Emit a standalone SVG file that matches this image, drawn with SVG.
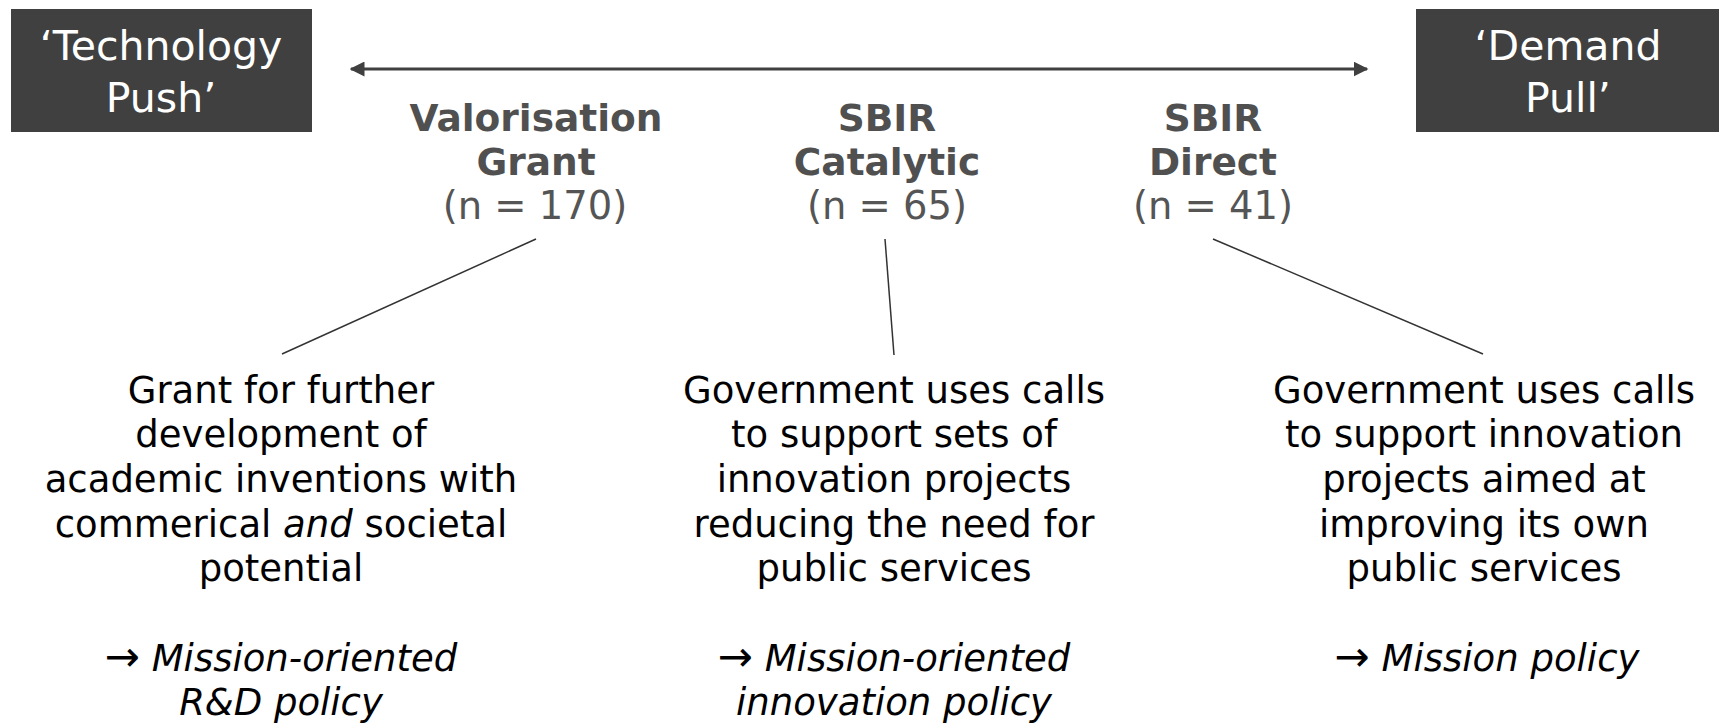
<svg xmlns="http://www.w3.org/2000/svg" width="1719" height="723" viewBox="0 0 1719 723">
  <style>
    .box { fill: #404040; }
    .boxtxt { font-family: "DejaVu Sans", Verdana, sans-serif; font-size: 41px; fill: #ffffff; text-anchor: middle; }
    .head { font-family: "DejaVu Sans", Verdana, sans-serif; font-size: 37.5px; font-weight: bold; fill: #505050; text-anchor: middle; }
    .count { font-family: "DejaVu Sans", Verdana, sans-serif; font-size: 38.5px; fill: #555555; text-anchor: middle; }
    .body { font-family: "DejaVu Sans", Verdana, sans-serif; font-size: 37px; fill: #000000; text-anchor: middle; }
    .it { font-style: italic; }
    .arr { font-size: 42px; }
    .link { stroke: #333333; stroke-width: 1.5; fill: none; }
    .axis { stroke: #404040; stroke-width: 3; fill: none; }
  </style>
  <defs>
    <marker id="head" viewBox="0 0 10 10" refX="9" refY="5" markerWidth="5" markerHeight="5" orient="auto-start-reverse" markerUnits="strokeWidth">
      <path d="M0,0 L10,5 L0,10 z" fill="#404040"/>
    </marker>
  </defs>
  <rect width="1719" height="723" fill="#ffffff"/>

  <!-- end poles of the scale -->
  <g id="technology-push">
    <rect class="box" x="11" y="9" width="301" height="123"/>
    <text class="boxtxt" x="161" y="60">‘Technology</text>
    <text class="boxtxt" x="161" y="112">Push’</text>
  </g>
  <g id="demand-pull">
    <rect class="box" x="1416" y="9" width="303" height="123"/>
    <text class="boxtxt" x="1568" y="60">‘Demand</text>
    <text class="boxtxt" x="1568" y="112">Pull’</text>
  </g>

  <!-- instruments -->
  <g id="valorisation-grant">
    <text class="head" x="536" y="131">Valorisation</text>
    <text class="head" x="536" y="175">Grant</text>
    <text class="count" x="535" y="219">(n = 170)</text>
  </g>
  <g id="sbir-catalytic">
    <text class="head" x="887" y="131">SBIR</text>
    <text class="head" x="887" y="175">Catalytic</text>
    <text class="count" x="887" y="219">(n = 65)</text>
  </g>
  <g id="sbir-direct">
    <text class="head" x="1213" y="131">SBIR</text>
    <text class="head" x="1213" y="175">Direct</text>
    <text class="count" x="1213" y="219">(n = 41)</text>
  </g>

  <!-- descriptions -->
  <g id="desc-valorisation">
    <text class="body" x="281" y="403">Grant for further</text>
    <text class="body" x="281" y="447">development of</text>
    <text class="body" x="281" y="492">academic inventions with</text>
    <text class="body" x="281" y="537">commerical <tspan class="it">and</tspan> societal</text>
    <text class="body" x="281" y="581">potential</text>
    <text class="body" x="281" y="671"><tspan class="arr">→</tspan> <tspan class="it">Mission-oriented</tspan></text>
    <text class="body it" x="281" y="715">R&amp;D policy</text>
  </g>
  <g id="desc-catalytic">
    <text class="body" x="894" y="403">Government uses calls</text>
    <text class="body" x="894" y="447">to support sets of</text>
    <text class="body" x="894" y="492">innovation projects</text>
    <text class="body" x="894" y="537">reducing the need for</text>
    <text class="body" x="894" y="581">public services</text>
    <text class="body" x="894" y="671"><tspan class="arr">→</tspan> <tspan class="it">Mission-oriented</tspan></text>
    <text class="body it" x="894" y="715">innovation policy</text>
  </g>
  <g id="desc-direct">
    <text class="body" x="1484" y="403">Government uses calls</text>
    <text class="body" x="1484" y="447">to support innovation</text>
    <text class="body" x="1484" y="492">projects aimed at</text>
    <text class="body" x="1484" y="537">improving its own</text>
    <text class="body" x="1484" y="581">public services</text>
    <text class="body" x="1487" y="671"><tspan class="arr">→</tspan> <tspan class="it">Mission policy</tspan></text>
  </g>

  <!-- connectors -->
  <g id="connectors">
    <line class="axis" x1="351" y1="69" x2="1367" y2="69" marker-start="url(#head)" marker-end="url(#head)"/>
    <line class="link" x1="536" y1="239" x2="282" y2="354"/>
    <line class="link" x1="885" y1="239" x2="894" y2="355"/>
    <line class="link" x1="1213" y1="239" x2="1483" y2="354"/>
  </g>
</svg>
